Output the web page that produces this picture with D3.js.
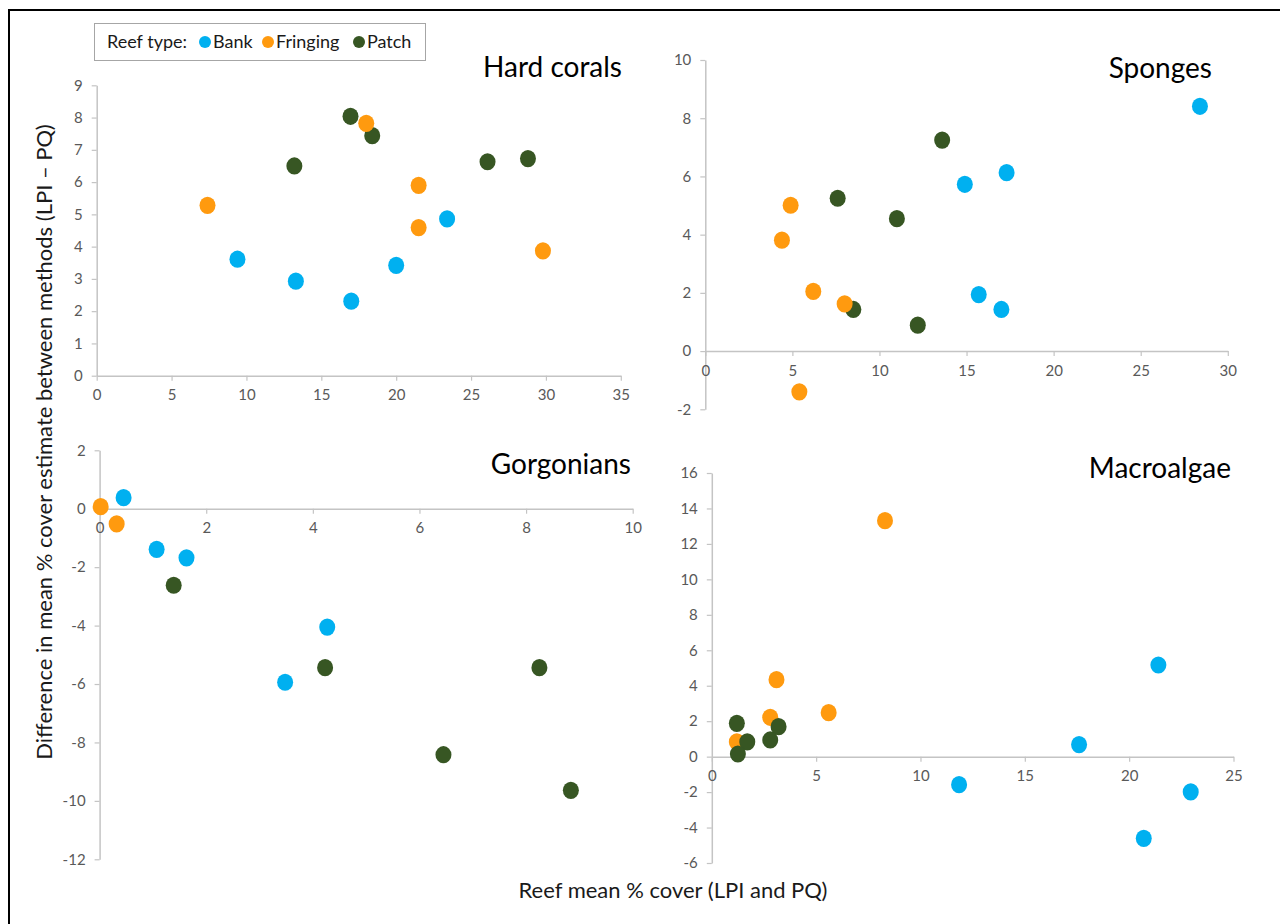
<!DOCTYPE html>
<html>
<head>
<meta charset="utf-8">
<script src="https://cdn.jsdelivr.net/npm/d3@7"></script>
<style>
  html, body { margin: 0; padding: 0; background: #fff; }
  svg { display: block; font-family: Lato, "Open Sans", sans-serif; }
</style>
</head>
<body>
<svg id="chart" width="1280" height="924"></svg>
<script>
// ---------- DATA ----------
const reefTypes = ["Bank", "Fringing", "Patch"];
const reefColors = ["#00B0F0", "#FF9A0F", "#375623"];

// Hard corals: [reef mean % cover, difference LPI - PQ]
const hardCoralsBank     = [[9.4,3.61],[13.3,2.93],[17.0,2.31],[20.0,3.42],[23.4,4.86]];
const hardCoralsFringing = [[7.4,5.28],[18.0,7.82],[21.5,5.90],[21.5,4.59],[29.8,3.87]];
const hardCoralsPatch    = [[16.95,8.04],[18.4,7.44],[13.2,6.50],[26.1,6.63],[28.8,6.73]];

// Sponges
const spongesBank     = [[28.4,8.41],[14.9,5.73],[17.3,6.13],[15.7,1.94],[17.0,1.43]];
const spongesFringing = [[4.9,5.01],[4.4,3.81],[6.2,2.05],[8.0,1.62],[5.4,-1.40]];
const spongesPatch    = [[13.6,7.25],[7.6,5.25],[11.0,4.55],[8.5,1.43],[12.2,0.89]];

// Gorgonians
const gorgoniansBank     = [[0.45,0.38],[1.07,-1.39],[1.63,-1.68],[4.27,-4.05],[3.48,-5.94]];
const gorgoniansFringing = [[0.02,0.07],[0.32,-0.52]];
const gorgoniansPatch    = [[1.39,-2.62],[4.23,-5.44],[8.25,-5.44],[6.45,-8.42],[8.84,-9.64]];

// Macroalgae
const macroalgaeBank     = [[21.4,5.17],[17.6,0.68],[11.85,-1.58],[22.95,-1.99],[20.7,-4.61]];
const macroalgaeFringing = [[8.3,13.31],[3.1,4.34],[5.6,2.48],[2.8,2.22],[1.2,0.83]];
const macroalgaePatch    = [[1.2,1.88],[3.2,1.69],[1.7,0.83],[2.8,0.94],[1.25,0.15]];

// Tick values
const hardCoralsXTicks = [0,5,10,15,20,25,30,35];
const hardCoralsYTicks = [0,1,2,3,4,5,6,7,8,9];
const spongesXTicks    = [0,5,10,15,20,25,30];
const spongesYTicks    = [-2,0,2,4,6,8,10];
const gorgoniansXTicks = [0,2,4,6,8,10];
const gorgoniansYTicks = [-12,-10,-8,-6,-4,-2,0,2];
const macroalgaeXTicks = [0,5,10,15,20,25];
const macroalgaeYTicks = [-6,-4,-2,0,2,4,6,8,10,12,14,16];

const panelTitles = ["Hard corals", "Sponges", "Gorgonians", "Macroalgae"];
const yAxisTitle = "Difference in mean % cover estimate between methods (LPI \u2013 PQ)";
const xAxisTitle = "Reef mean % cover (LPI and PQ)";
const legendTitle = "Reef type:";

// ---------- LAYOUT ----------
const panels = [
  { title: panelTitles[0], series: [hardCoralsBank, hardCoralsFringing, hardCoralsPatch],
    order: [0,2,1], xTicks: hardCoralsXTicks, yTicks: hardCoralsYTicks,
    xr: [96.7, 620.8], yr: [375.7, 85.3], titleX: 622, titleY: 77 },
  { title: panelTitles[1], series: [spongesBank, spongesFringing, spongesPatch],
    order: [0,2,1], xTicks: spongesXTicks, yTicks: spongesYTicks,
    xr: [705.3, 1227.8], yr: [409.3, 60], titleX: 1212, titleY: 78 },
  { title: panelTitles[2], series: [gorgoniansBank, gorgoniansFringing, gorgoniansPatch],
    order: [0,1,2], xTicks: gorgoniansXTicks, yTicks: gorgoniansYTicks,
    xr: [99.6, 632.7], yr: [859.3, 450.3], titleX: 631, titleY: 474 },
  { title: panelTitles[3], series: [macroalgaeBank, macroalgaeFringing, macroalgaePatch],
    order: [0,1,2], xTicks: macroalgaeXTicks, yTicks: macroalgaeYTicks,
    xr: [711.8, 1233.5], yr: [863, 473], titleX: 1231, titleY: 478 }
];

const svg = d3.select("#chart");
const axisColor = "#c4c4c4";
const tickTextColor = "#595959";
const fmt = d => String(d);

panels.forEach(p => {
  const yt = p.yTicks, xt = p.xTicks;
  const x = d3.scaleLinear().domain([xt[0], xt[xt.length-1]]).range(p.xr);
  const y = d3.scaleLinear().domain([yt[0], yt[yt.length-1]]).range(p.yr);
  const g = svg.append("g");

  // y axis
  const ya = g.append("g").attr("transform", `translate(${x(0)},0)`)
    .call(d3.axisLeft(y).tickValues(yt).tickFormat(fmt).tickSize(5).tickPadding(9).tickSizeOuter(0));
  // x axis at y = 0
  const xa = g.append("g").attr("transform", `translate(0,${y(0)})`)
    .call(d3.axisBottom(x).tickValues(xt).tickFormat(fmt).tickSize(5).tickPadding(9).tickSizeOuter(0));

  [ya, xa].forEach(a => {
    a.select(".domain").attr("stroke", axisColor).attr("stroke-width", 1.5);
    a.selectAll(".tick line").attr("stroke", axisColor).attr("stroke-width", 1.2);
    a.selectAll(".tick text").attr("fill", tickTextColor)
      .style("font-family", "Lato, sans-serif").style("font-size", "15px");
  });

  // title
  g.append("text").attr("x", p.titleX).attr("y", p.titleY)
    .attr("text-anchor", "end").attr("fill", "#000")
    .style("font-size", "28px").text(p.title);

  // points
  p.order.forEach(si => {
    g.append("g").selectAll("ellipse").data(p.series[si]).join("ellipse")
      .attr("cx", d => x(d[0])).attr("cy", d => y(d[1]))
      .attr("rx", 8).attr("ry", 8.6)
      .attr("fill", reefColors[si]);
  });
});

// axis titles
svg.append("text")
  .attr("transform", "translate(52,442) rotate(-90)")
  .attr("text-anchor", "middle").attr("fill", "#1a1a1a")
  .style("font-size", "22px").text(yAxisTitle);

svg.append("text")
  .attr("x", 673).attr("y", 898)
  .attr("text-anchor", "middle").attr("fill", "#1a1a1a")
  .style("font-size", "22px").text(xAxisTitle);

// legend
const lg = svg.append("g");
lg.append("rect").attr("x", 94.5).attr("y", 23.5).attr("width", 331).attr("height", 37)
  .attr("fill", "#fff").attr("stroke", "#a6a6a6").attr("stroke-width", 1);
lg.append("text").attr("x", 107).attr("y", 48).attr("fill", "#1a1a1a")
  .style("font-size", "18px").text(legendTitle);
const legendX = [205, 268, 359];
reefTypes.forEach((t, i) => {
  lg.append("circle").attr("cx", legendX[i]).attr("cy", 42).attr("r", 6).attr("fill", reefColors[i]);
  lg.append("text").attr("x", legendX[i] + 8).attr("y", 48).attr("fill", "#1a1a1a")
    .style("font-size", "18px").text(t);
});

// outer frame (top and left edges)
svg.append("path").attr("d", "M9,924 V10 H1280")
  .attr("fill", "none").attr("stroke", "#000").attr("stroke-width", 2);
</script>
</body>
</html>
